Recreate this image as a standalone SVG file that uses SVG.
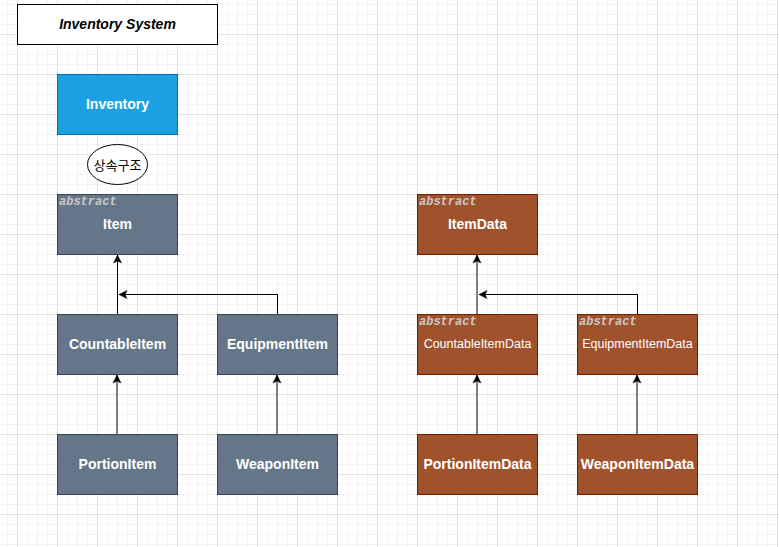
<svg xmlns="http://www.w3.org/2000/svg" width="779" height="547" viewBox="0 0 779 547">
<style>
.lbl{font-family:"Liberation Sans",Arial,sans-serif;font-weight:bold;font-size:14px;fill:#ffffff;text-anchor:middle;dominant-baseline:central}
.sm{font-weight:normal;font-size:12.5px}
.abs{font-family:"Liberation Mono","Courier New",monospace;font-weight:bold;font-style:italic;font-size:12px;fill:#c8c8c8}
.gray{fill:#647687;stroke:#314354;stroke-width:1}
.brown{fill:#a0522d;stroke:#6d1f00;stroke-width:1}
.edge{fill:none;stroke:#000000;stroke-width:1}
.edge2{fill:none;stroke:#808080;stroke-width:2}
</style>
<defs>
<pattern id="grid" x="17" y="34" width="40" height="40" patternUnits="userSpaceOnUse">
<rect x="10" y="0" width="1" height="40" fill="#f3f3f3"/>
<rect x="20" y="0" width="1" height="40" fill="#f3f3f3"/>
<rect x="30" y="0" width="1" height="40" fill="#f3f3f3"/>
<rect x="0" y="10" width="40" height="1" fill="#f3f3f3"/>
<rect x="0" y="20" width="40" height="1" fill="#f3f3f3"/>
<rect x="0" y="30" width="40" height="1" fill="#f3f3f3"/>
<rect x="0" y="0" width="1" height="40" fill="#e2e2e2"/>
<rect x="0" y="0" width="40" height="1" fill="#e2e2e2"/>
</pattern>
<marker id="arr" viewBox="-9 -5 10 10" refX="0" refY="0" markerWidth="10" markerHeight="10" markerUnits="userSpaceOnUse" orient="auto">
<path d="M0,0 L-8,-4 L-6,0 L-8,4 Z" fill="#000000" stroke="#000000" stroke-width="0.5"/>
</marker>
</defs>
<rect x="0" y="0" width="779" height="547" fill="#ffffff"/>
<rect x="0" y="0" width="779" height="547" fill="url(#grid)"/>

<g id="connectors">
<path class="edge" d="M117.5,314 L117.5,255" marker-end="url(#arr)"/>
<path class="edge" d="M277.5,314 L277.5,294.5 L119,294.5" marker-end="url(#arr)"/>
<path class="edge2" d="M117,434 L117,375" marker-end="url(#arr)"/>
<path class="edge2" d="M277,434 L277,375" marker-end="url(#arr)"/>
<path class="edge2" d="M477,314 L477,255" marker-end="url(#arr)"/>
<path class="edge" d="M637.5,314 L637.5,294.5 L479,294.5" marker-end="url(#arr)"/>
<path class="edge2" d="M477,434 L477,375" marker-end="url(#arr)"/>
<path class="edge2" d="M637,434 L637,375" marker-end="url(#arr)"/>
</g>

<g id="title">
<rect x="17.5" y="4.5" width="200" height="40" fill="#ffffff" stroke="#000000"/>
<text x="117.5" y="24" class="lbl" style="fill:#000000;font-style:italic">Inventory System</text>
</g>
<g id="inventory">
<rect x="57.5" y="74.5" width="120" height="60" fill="#1ba1e2" stroke="#006eaf"/>
<text x="117.5" y="104" class="lbl">Inventory</text>
</g>
<g id="inherit-note">
<ellipse cx="117.5" cy="164.5" rx="30" ry="20" fill="#ffffff" stroke="#000000"/>
<text x="117.5" y="164" class="lbl" style="fill:#000000;font-weight:normal;font-size:13px;font-family:'Noto Sans CJK KR','Liberation Sans',sans-serif">상속구조</text>
</g>
<g id="item">
<rect x="57.5" y="194.5" width="120" height="60" class="gray"/>
<text x="59" y="205" class="abs">abstract</text>
<text x="117.5" y="224" class="lbl">Item</text>
</g>
<g id="countableitem">
<rect x="57.5" y="314.5" width="120" height="60" class="gray"/>
<text x="117.5" y="344" class="lbl">CountableItem</text>
</g>
<g id="equipmentitem">
<rect x="217.5" y="314.5" width="120" height="60" class="gray"/>
<text x="277.5" y="344" class="lbl">EquipmentItem</text>
</g>
<g id="portionitem">
<rect x="57.5" y="434.5" width="120" height="60" class="gray"/>
<text x="117.5" y="464" class="lbl">PortionItem</text>
</g>
<g id="weaponitem">
<rect x="217.5" y="434.5" width="120" height="60" class="gray"/>
<text x="277.5" y="464" class="lbl">WeaponItem</text>
</g>
<g id="itemdata">
<rect x="417.5" y="194.5" width="120" height="60" class="brown"/>
<text x="419" y="205" class="abs">abstract</text>
<text x="477.5" y="224" class="lbl">ItemData</text>
</g>
<g id="countableitemdata">
<rect x="417.5" y="314.5" width="120" height="60" class="brown"/>
<text x="419" y="325" class="abs">abstract</text>
<text x="477.5" y="343.5" class="lbl sm">CountableItemData</text>
</g>
<g id="equipmentitemdata">
<rect x="577.5" y="314.5" width="120" height="60" class="brown"/>
<text x="579" y="325" class="abs">abstract</text>
<text x="637.5" y="343.5" class="lbl sm">EquipmentItemData</text>
</g>
<g id="portionitemdata">
<rect x="417.5" y="434.5" width="120" height="60" class="brown"/>
<text x="477.5" y="464" class="lbl">PortionItemData</text>
</g>
<g id="weaponitemdata">
<rect x="577.5" y="434.5" width="120" height="60" class="brown"/>
<text x="637.5" y="464" class="lbl">WeaponItemData</text>
</g>
</svg>
